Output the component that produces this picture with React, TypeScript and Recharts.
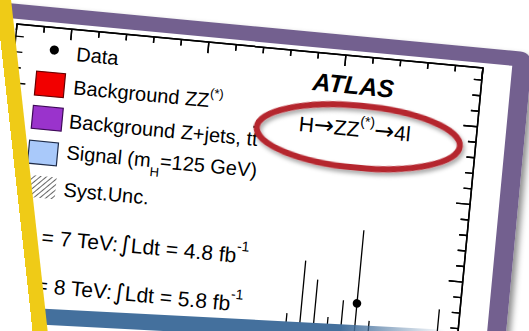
import { ComposedChart, Scatter, ErrorBar, XAxis, YAxis } from "recharts";

// m4l bins visible in the crop (GeV), observed events and Poisson errors
const massBins = [187.5, 192.5, 197.5, 202.5, 207.5, 212.5, 217.5, 242.5];
const eventCounts = [8, 11, 10, 8, 9, 13, 8, 9];
const errorsUp = [3.96, 4.42, 4.28, 3.96, 4.12, 4.71, 3.96, 4.12];
const errorsDown = [2.77, 3.26, 3.12, 2.77, 2.91, 3.6, 2.77, 2.91];

const massTicks = [80, 90, 100, 110, 120, 130, 140, 150, 160, 170, 180, 190, 200, 210, 220, 230, 240, 250];
const eventTicks = [0, 1, 2, 3, 4, 5, 6, 7, 8, 9, 10, 11, 12, 13, 14, 15, 16, 17, 18, 19, 20, 21, 22, 23, 24, 25, 26, 27, 28];

const energies = ["7", "8"];
const lumis = ["4.8", "5.8"];

const xDomain = [80, 250];
const yDomain = [0, 28.78];
const plotW = 468;
const plotH = 449;

const points = massBins.map((m, i) => ({
  x: m,
  y: eventCounts[i],
  err: [errorsDown[i], errorsUp[i]],
}));

const font = "'Liberation Sans', Arial, Helvetica, sans-serif";
const symFont = "'DejaVu Sans', sans-serif";
const purple = "#73608f";

// same linear mapping as the chart's plot area (used for the frame ticks)
const px = (m: number) => ((m - xDomain[0]) / (xDomain[1] - xDomain[0])) * plotW;
const py = (y: number) => ((yDomain[1] - y) / (yDomain[1] - yDomain[0])) * plotH;

const topTick = (p: any) => {
  const len = p.payload.value % 50 === 0 ? 11 : 6;
  return <rect x={p.x - 0.7} y={p.y} width={1.4} height={len} fill="#000" />;
};
const rightTick = (p: any) => {
  const len = p.payload.value % 5 === 0 ? 14 : 8;
  return <rect x={p.x - len} y={p.y - 0.7} width={len} height={1.4} fill="#000" />;
};
const dot = (p: any) => <circle cx={p.cx} cy={p.cy} r={4.3} fill="#000" />;

export default function App() {
  return (
    <div style={{ position: "fixed", left: 0, top: 0, width: 529, height: 331, overflow: "hidden", background: "#fff" }}>
      {/* the tilted slide */}
      <div style={{ position: "absolute", left: 17, top: 24, width: 560, height: 500, transform: "rotate(5.4deg)", transformOrigin: "0 0" }}>
        <div
          style={{
            position: "absolute",
            left: -80,
            top: -20,
            width: 596,
            height: 600,
            boxSizing: "border-box",
            border: `15px solid ${purple}`,
            borderRightWidth: 19,
            borderRadius: 12,
            boxShadow: "4px 4px 6px rgba(0,0,0,0.45)",
          }}
        />

        <div style={{ position: "absolute", left: -40, top: -30 }}>
          <ComposedChart width={548} height={509} margin={{ top: 29, right: 39, bottom: 30, left: 40 }}>
            <XAxis
              xAxisId="top"
              orientation="top"
              type="number"
              dataKey="x"
              domain={xDomain}
              ticks={massTicks}
              interval={0}
              height={1}
              tickSize={0}
              tickMargin={0}
              tickLine={false}
              axisLine={{ stroke: "#000", strokeWidth: 1.5 }}
              tick={topTick}
            />
            <YAxis
              yAxisId="right"
              orientation="right"
              type="number"
              dataKey="y"
              domain={yDomain}
              ticks={eventTicks}
              interval={0}
              width={1}
              tickSize={0}
              tickMargin={0}
              tickLine={false}
              axisLine={{ stroke: "#000", strokeWidth: 1.5 }}
              tick={rightTick}
            />
            <Scatter data={points} xAxisId="top" yAxisId="right" isAnimationActive={false} shape={dot}>
              <ErrorBar dataKey="err" direction="y" width={0} stroke="#000" strokeWidth={1.3} isAnimationActive={false} />
            </Scatter>
          </ComposedChart>
        </div>

        <svg width={620} height={560} style={{ position: "absolute", left: -50, top: -50, overflow: "visible" }} fontFamily={font} fill="#000">
          <defs>
            <pattern id="hatch" width="4" height="4" patternUnits="userSpaceOnUse" patternTransform="rotate(45)">
              <line x1="0" y1="0" x2="0" y2="4" stroke="#000" strokeWidth="1.2" />
            </pattern>
            <filter id="shadow" x="-20%" y="-50%" width="140%" height="200%">
              <feDropShadow dx="2" dy="3" stdDeviation="2" floodColor="#000" floodOpacity="0.35" />
            </filter>
          </defs>
          <g transform="translate(50,50)">
            {/* plot frame with inward ticks */}
            <g fill="#000">
              <rect x={-0.75} y={-0.75} width={plotW + 1.5} height={1.5} />
              <rect x={plotW - 0.75} y={-0.75} width={1.5} height={plotH} />
              <rect x={-0.75} y={-0.75} width={1.5} height={plotH} />
              {massTicks.map((m) => (
                <rect key={"t" + m} x={px(m) - 0.7} y={0} width={1.4} height={m % 50 === 0 ? 11 : 6} />
              ))}
              {eventTicks.map((y) => {
                const len = y % 5 === 0 ? 14 : 8;
                return <rect key={"r" + y} x={plotW - len} y={py(y) - 0.7} width={len} height={1.4} />;
              })}
              {eventTicks.map((y) => (
                <rect key={"l" + y} x={0} y={py(y) - 0.7} width={y % 5 === 0 ? 14 : 8} height={1.4} />
              ))}
            </g>

            <circle cx={39.6} cy={22.4} r={4.6} fill="#000" />
            <text x={62} y={31.3} fontSize={20}>Data</text>

            <rect x={24} y={45} width={29} height={24} fill="#f20000" stroke="#6a0000" strokeWidth={1.2} />
            <text x={62} y={64.8} fontSize={20}>
              Background ZZ<tspan fontSize={13} dy={-10}>(*)</tspan>
            </text>

            <rect x={24} y={79.5} width={30} height={23} fill="#9a33cc" stroke="#3e0a58" strokeWidth={1.2} />
            <text x={61} y={99} fontSize={20}>
              Background Z+jets, t<tspan textDecoration="overline">t</tspan>
            </text>

            <rect x={23.5} y={114.5} width={29} height={23} fill="#a9c9fa" stroke="#1e2b48" strokeWidth={1.2} />
            <text x={61.5} y={130} fontSize={20}>
              Signal (m<tspan fontSize={13} dy={9}>H</tspan>
              <tspan dy={-9}>=125 GeV)</tspan>
            </text>

            <rect x={28} y={149} width={26} height={22} fill="url(#hatch)" />
            <text x={62} y={167.4} fontSize={20}>Syst.Unc.</text>

            {energies.map((e, i) => (
              <text key={e} y={217 + i * 48.3} fontSize={21}>
                <tspan x={57 - i * 1.5} textAnchor="end">&#8730;s =</tspan>
                <tspan x={63 - i * 1.5}>{e} TeV:</tspan>
                <tspan fontFamily={symFont} fontSize={23} dx={1}>&#8747;</tspan>
                <tspan>Ldt = {lumis[i]} fb</tspan>
                <tspan fontSize={14} dy={-12}>-1</tspan>
              </text>
            ))}

            <text x={300} y={38} fontSize={25} fontWeight="bold" fontStyle="italic">ATLAS</text>
            <text x={290} y={80} fontSize={21}>
              H<tspan fontFamily={symFont} fontSize={24}>&#8594;</tspan>ZZ
              <tspan fontSize={14} dy={-11}>(*)</tspan>
              <tspan dy={11} fontFamily={symFont} fontSize={24}>&#8594;</tspan>
              <tspan>4l</tspan>
            </text>

            <ellipse cx={350.4} cy={80.1} rx={102} ry={31} fill="none" stroke="#b5252f" strokeWidth={6} filter="url(#shadow)" />
          </g>
        </svg>
      </div>

      {/* blue strip at the bottom */}
      <div
        style={{
          position: "absolute",
          left: 30,
          top: 307.5,
          width: 420,
          height: 16,
          transform: "rotate(3deg)",
          transformOrigin: "0 0",
          background: "linear-gradient(to right, #44709d 0%, #44709d 74%, rgba(68,112,157,0) 99%)",
        }}
      />

      {/* white margin and yellow bar on the left */}
      <div
        style={{
          position: "absolute",
          left: -304.5,
          top: 0,
          width: 315,
          height: 400,
          transform: "rotate(-6.3deg)",
          transformOrigin: "300px 0",
          background: "linear-gradient(to right, #fff 0px, #fff 300px, #efcb17 300px, #efcb17 315px)",
        }}
      />
    </div>
  );
}
